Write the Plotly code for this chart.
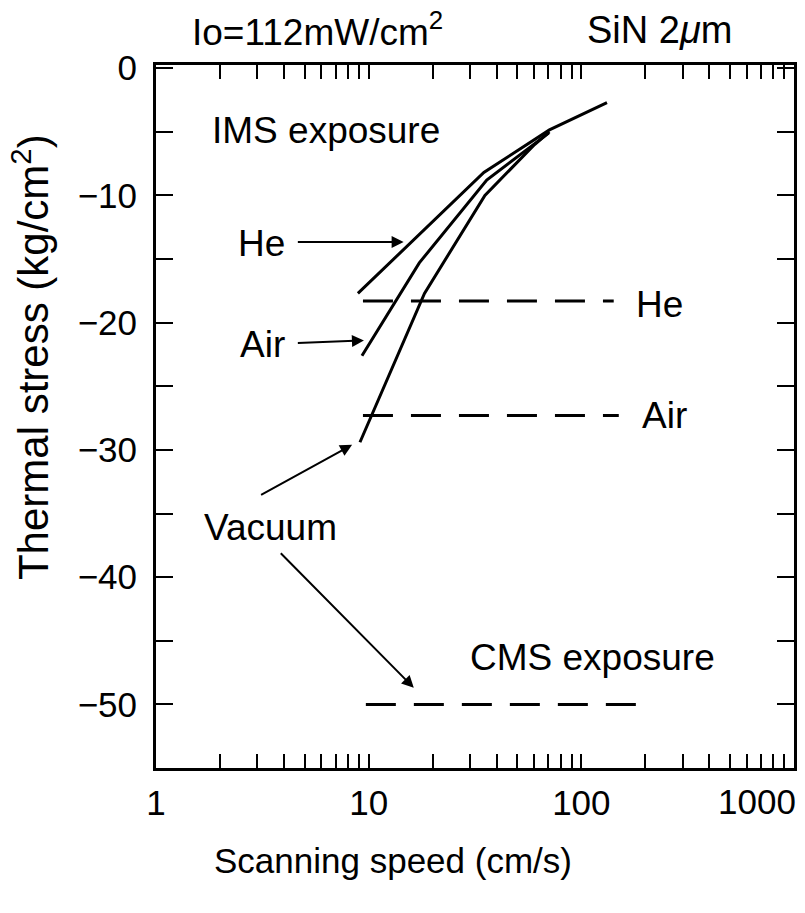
import math
import plotly.graph_objects as go

# Scanning speed (cm/s) and thermal stress (kg/cm^2) for IMS exposure
he_speed = [8.9, 34.8, 70.8, 132]
he_stress = [-17.7, -8.2, -4.85, -2.7]

air_speed = [9.3, 17.3, 35.9, 70.2]
air_stress = [-22.6, -15.3, -8.8, -5.1]

vac_speed = [9.1, 18.3, 35.2, 60.3, 70.8]
vac_stress = [-29.4, -17.7, -10.0, -6.0, -5.0]

# CMS exposure levels (independent of scanning speed)
cms_he_speed = [9.4, 142]
cms_he_stress = [-18.3, -18.3]
cms_air_speed = [9.4, 150]
cms_air_stress = [-27.3, -27.3]
cms_vac_speed = [9.7, 183]
cms_vac_stress = [-50.0, -50.0]

x_tick_vals = [m * 10 ** d for d in range(3) for m in range(1, 10)] + [1000]
x_tick_text = [str(v) if v in (1, 10, 100) else "" for v in x_tick_vals]
y_tick_vals = list(range(0, -55, -5))
y_tick_text = [("0" if v == 0 else "\u2212" + str(-v)) if v % 10 == 0 else "" for v in y_tick_vals]

FONT = "Liberation Sans, Arial, Helvetica, sans-serif"
FS = 37
TICK_FS = 35

fig = go.Figure()
solid = dict(color="black", width=3)
dashed = dict(color="black", width=3, dash="30px,18px")

for xs, ys in [(he_speed, he_stress), (air_speed, air_stress), (vac_speed, vac_stress)]:
    fig.add_trace(go.Scatter(x=xs, y=ys, mode="lines", line=solid,
                             hoverinfo="skip", showlegend=False))
for xs, ys in [(cms_he_speed, cms_he_stress), (cms_air_speed, cms_air_stress),
               (cms_vac_speed, cms_vac_stress)]:
    fig.add_trace(go.Scatter(x=xs, y=ys, mode="lines", line=dashed,
                             hoverinfo="skip", showlegend=False))


def lg(v):
    return math.log10(v)


annotations = []


def label(text, x, y, xanchor="left", size=FS):
    annotations.append(dict(text=text, x=lg(x), y=y, xref="x", yref="y",
                            xanchor=xanchor, yanchor="middle", showarrow=False,
                            font=dict(family=FONT, size=size, color="black")))


def arrow(x_head, y_head, x_tail, y_tail):
    annotations.append(dict(text="", x=lg(x_head), y=y_head, ax=lg(x_tail), ay=y_tail,
                            xref="x", yref="y", axref="x", ayref="y",
                            showarrow=True, arrowhead=2, arrowsize=1.2,
                            arrowwidth=2, arrowcolor="black"))


label("IMS exposure", 1.80, -4.9)
label("He", 4.15, -13.8, xanchor="right")
arrow(14.6, -13.66, 4.57, -13.66)
label("Air", 4.15, -21.7, xanchor="right")
arrow(9.5, -21.4, 4.57, -21.6)
label("He", 177, -18.6)
label("Air", 188, -27.3)
label("Vacuum", 3.47, -36.1, xanchor="center")
arrow(8.36, -29.6, 3.07, -33.6)
arrow(16.3, -48.7, 3.8, -38.0)
label("CMS exposure", 29.4, -46.3)

# Header texts, axis titles and the right-hand decade label
for text, x, y, xa, ang, size in [
    ("Io=112mW/cm<sup>2</sup>", 0.053, 1.05, "left", 0, 37),
    ("SiN 2<i>\u03bc</i>m", 0.672, 1.05, "left", 0, 38),
    ("Scanning speed (cm/s)", 0.371, -0.132, "center", 0, 35),
    ("Thermal stress (kg/cm<sup>2</sup>)", -0.197, 0.585, "center", -90, 42),
    ("1000", 1.006, -0.047, "right", 0, TICK_FS),
]:
    annotations.append(dict(text=text, x=x, y=y, xref="paper", yref="paper",
                            xanchor=xa, yanchor="middle", showarrow=False,
                            textangle=ang,
                            font=dict(family=FONT, size=size, color="black")))

fig.update_layout(
    width=805, height=913,
    margin=dict(l=156, r=8, t=65, b=145),
    paper_bgcolor="white", plot_bgcolor="white",
    font=dict(family=FONT, size=FS, color="black"),
    annotations=annotations,
    showlegend=False,
)
fig.update_xaxes(type="log", range=[0, 3], tickvals=x_tick_vals, ticktext=x_tick_text,
                 ticks="inside", ticklen=14, tickwidth=2, tickcolor="black",
                 showline=True, linewidth=3, linecolor="black", mirror="ticks",
                 showgrid=False, zeroline=False, ticklabelstandoff=2,
                 tickfont=dict(family=FONT, size=TICK_FS))
fig.update_yaxes(range=[-55, 0.25], tickvals=y_tick_vals, ticktext=y_tick_text,
                 ticks="inside", ticklen=17, tickwidth=2, tickcolor="black",
                 showline=True, linewidth=3, linecolor="black", mirror="ticks",
                 showgrid=False, zeroline=False, ticklabelstandoff=9,
                 tickfont=dict(family=FONT, size=TICK_FS))

fig.write_html("out.html")
